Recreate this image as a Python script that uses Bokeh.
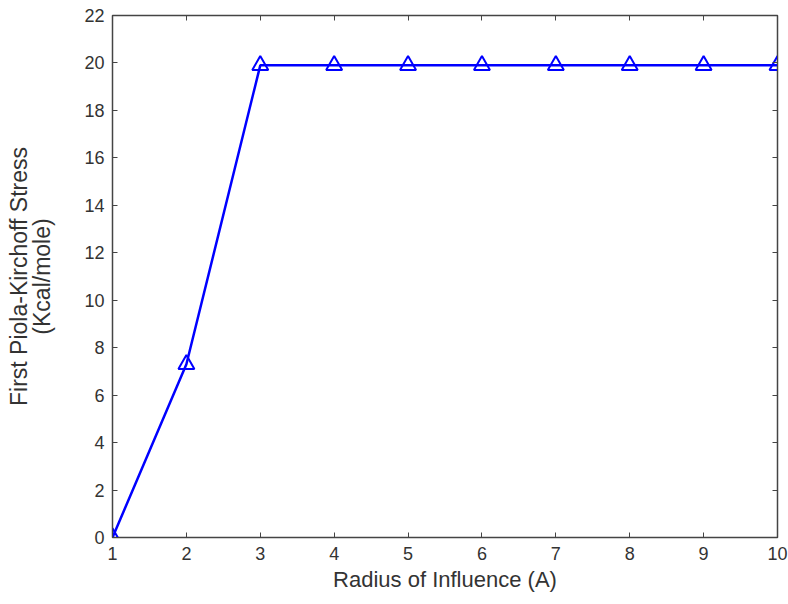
from bokeh.plotting import figure
from bokeh.models import LinearAxis, FixedTicker, Range1d
from bokeh.embed import file_html
from bokeh.resources import INLINE

radius = [1, 2, 3, 4, 5, 6, 7, 8, 9, 10]
stress = [0.0, 7.3, 19.9, 19.9, 19.9, 19.9, 19.9, 19.9, 19.9, 19.9]
x_ticks = [1, 2, 3, 4, 5, 6, 7, 8, 9, 10]
y_ticks = [0, 2, 4, 6, 8, 10, 12, 14, 16, 18, 20, 22]

p = figure(width=788, height=604, output_backend="svg", toolbar_location=None,
           x_range=Range1d(1, 10), y_range=Range1d(0, 22),
           x_axis_label="Radius of Influence (A)",
           y_axis_label="First Piola-Kirchoff Stress\n(Kcal/mole)",
           min_border_left=112, min_border_right=11, min_border_top=15, min_border_bottom=67)
p.grid.visible = False
p.outline_line_color = "#444444"
p.outline_line_width = 1.5
p.background_fill_color = "white"
p.border_fill_color = "white"

p.line(radius, stress, line_color="#0000ff", line_width=2.5)
p.scatter(radius, stress, marker="triangle", size=16, line_color="#0000ff",
          fill_color=None, line_width=2)

for ax, ticks in ((p.xaxis[0], x_ticks), (p.yaxis[0], y_ticks)):
    ax.ticker = FixedTicker(ticks=ticks)
    ax.major_tick_in = 5
    ax.major_tick_out = 0
    ax.minor_tick_line_color = None
    ax.axis_line_color = "#444444"
    ax.major_tick_line_color = "#444444"
    ax.major_label_text_font = "Liberation Sans"
    ax.major_label_text_font_size = "18px"
    ax.major_label_text_color = "#333333"
    ax.axis_label_text_font = "Liberation Sans"
    ax.axis_label_text_font_style = "normal"
    ax.axis_label_text_color = "#333333"
p.xaxis[0].axis_label_text_font_size = "22px"
p.yaxis[0].axis_label_text_font_size = "23px"
p.yaxis[0].axis_label_text_line_height = 0.9
p.xaxis[0].major_label_standoff = 9
p.xaxis[0].axis_label_standoff = 4
p.yaxis[0].major_label_standoff = 8
p.yaxis[0].axis_label_standoff = 26

for loc, ticks in (("above", x_ticks), ("right", y_ticks)):
    ax = LinearAxis(ticker=FixedTicker(ticks=ticks))
    ax.major_tick_in = 5
    ax.major_tick_out = 0
    ax.minor_tick_line_color = None
    ax.axis_line_color = "#444444"
    ax.major_tick_line_color = "#444444"
    ax.major_label_overrides = {t: "" for t in ticks}
    ax.major_label_standoff = 0
    p.add_layout(ax, loc)

open("out.html", "w").write(file_html(p, INLINE))
